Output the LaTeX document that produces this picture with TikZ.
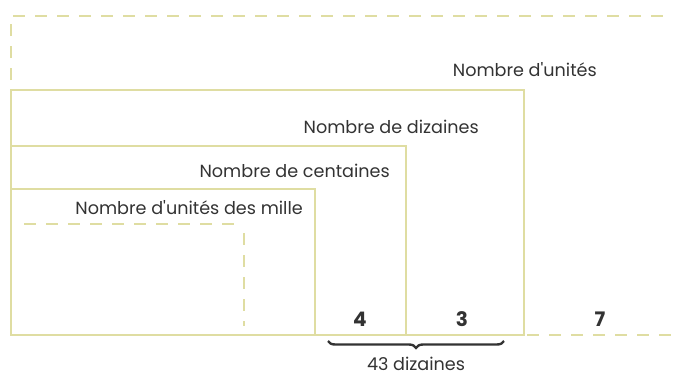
\documentclass[tikz,border=0pt]{standalone}
\usepackage{fontspec}
\setmainfont{Poppins}
\usepackage{tikz}
\usepackage{xcolor}
\usetikzlibrary{decorations.pathreplacing}

\definecolor{olive}{HTML}{DFDDA2}
\definecolor{ink}{HTML}{333333}

\tikzset{
	frame/.style={draw=olive, line width=2.6pt},
	dashframe/.style={frame, dash pattern=on 12pt off 10pt},
	lbl/.style={anchor=east, text=ink, font=\fontsize{17.6}{19}\selectfont, inner sep=0pt},
	digit/.style={text=ink, font=\fontsize{20}{22}\selectfont\bfseries, inner sep=0pt}
}

\begin{document}
\begin{tikzpicture}[x=1pt, y=-1pt]
	\useasboundingbox (0,0) rectangle (673,378);
	% nested boxes
	\draw[dashframe] (11,80) -- (11,16) -- (673,16);
	\draw[dashframe] (527,335) -- (673,335);
	\draw[frame] (11,90) rectangle (524,335);
	\draw[frame] (11,146) rectangle (406,335);
	\draw[frame] (11,189) rectangle (315,335);
	\draw[dashframe] (24,224) -- (242,224);
	\draw[dashframe] (244,233) -- (244,326);
	% labels
	\node[lbl] (unites)    at (597,70)  {Nombre d\textquotesingle unités};
	\node[lbl] (dizaines)  at (479,127) {Nombre de dizaines};
	\node[lbl] (centaines) at (390,171) {Nombre de centaines};
	\node[lbl] (mille)     at (303,208) {Nombre d\textquotesingle unités des mille};
	% digits
	\node[digit] (d4) at (360,319) {4};
	\node[digit] (d3) at (462,319) {3};
	\node[digit] (d7) at (600,319) {7};
	% brace
	\coordinate (bl) at (328,341);
	\coordinate (br) at (504,341);
	\draw[ink, line width=2.4pt, decorate, decoration={brace, amplitude=7pt, mirror}] (bl) -- (br);
	\node[text=ink, font=\fontsize{17.6}{19}\selectfont, inner sep=0pt] (total) at (416,364) {43 dizaines};
\end{tikzpicture}
\end{document}
